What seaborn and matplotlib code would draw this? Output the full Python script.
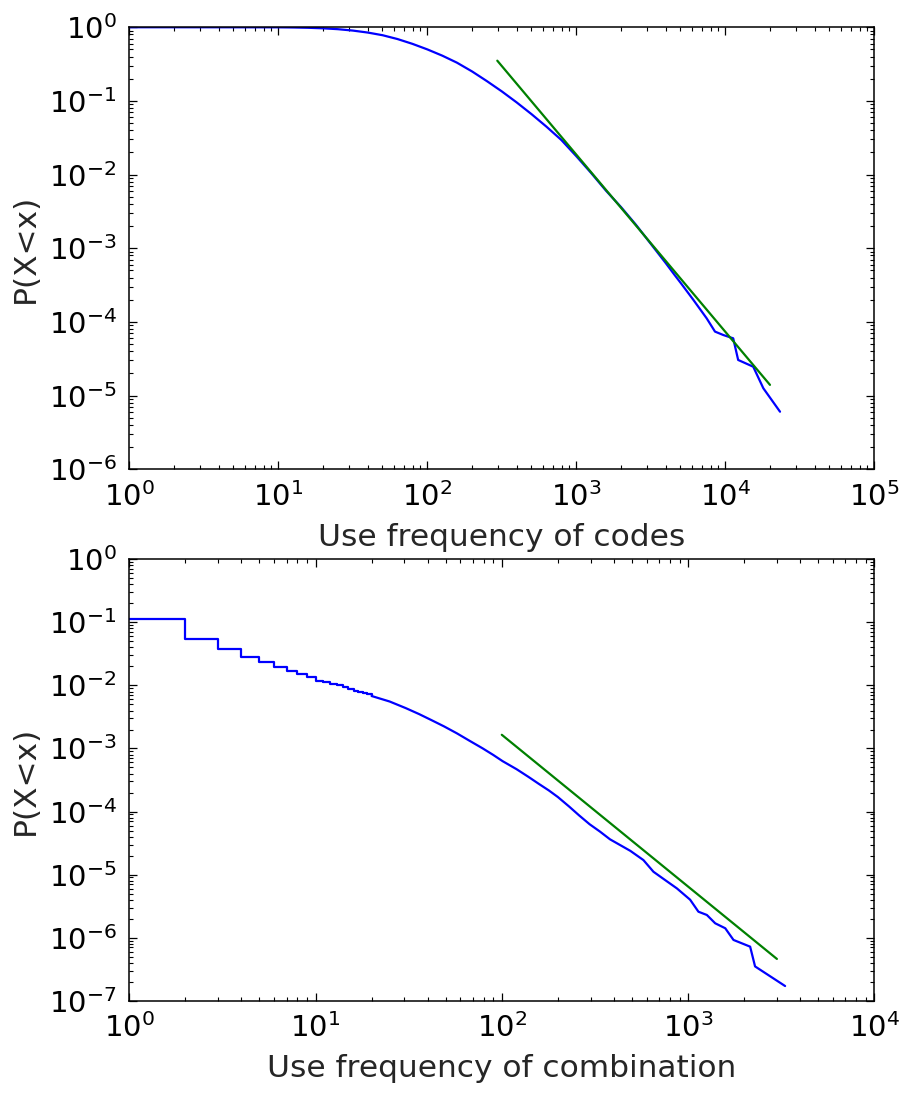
import numpy as np
import pandas as pd
import matplotlib
matplotlib.use("Agg")
import matplotlib.pyplot as plt
import matplotlib.ticker as mticker
import seaborn as sns

# ---------------- data ----------------
# Top panel: use frequency of codes (CCDF)
codes_x = [1, 2, 5, 10, 12.6, 15.8, 20.0, 25.1, 31.6, 39.8, 50.1, 63.1, 79.4,
           100, 126, 158, 200, 251, 316, 398, 501, 631, 794, 1000, 1259, 1585,
           1995, 2512, 3162, 3981, 4510, 5070, 6100, 6590, 7500, 8530, 9700,
           11300, 12200, 15400, 18000, 23300]
codes_y = [1.0, 1.0, 0.999, 0.998, 0.993, 0.984, 0.968, 0.942, 0.902, 0.848,
           0.78, 0.692, 0.596, 0.501, 0.412, 0.331, 0.251, 0.186, 0.135,
           0.0955, 0.0661, 0.0447, 0.0295, 0.0178, 0.0105, 0.00603, 0.00363,
           0.00209, 0.00115, 6.31e-4, 4.5e-4, 3.3e-4, 2.0e-4, 1.61e-4,
           1.12e-4, 7.4e-5, 6.65e-5, 6.0e-5, 3.05e-5, 2.47e-5, 1.26e-5, 6.05e-6]
codes_fit_x = [295, 19950]
codes_fit_y = [0.352, 1.4e-5]

# Bottom panel: use frequency of combination (CCDF)
comb_step_x = list(range(1, 21))
comb_step_y = [0.112, 0.0545, 0.0374, 0.0286, 0.0238, 0.0198, 0.0171, 0.0152,
               0.0134, 0.0119, 0.0115, 0.0107, 0.0100, 0.0093, 0.0089, 0.0083,
               0.0079, 0.0076, 0.0072, 0.0068]
comb_x = [20, 25, 30.5, 36, 41.9, 49, 57.4, 67, 78.7, 90, 101, 120, 139, 158,
          179, 200, 230, 260, 296, 337, 381, 490, 576, 652, 753, 871, 1026,
          1137, 1262, 1399, 1584, 1754, 2155, 2290, 3320]
comb_y = [0.0068, 0.00556, 0.00437, 0.00351, 0.00282, 0.00224, 0.00174,
          0.00133, 0.00101, 7.9e-4, 6.3e-4, 4.7e-4, 3.55e-4, 2.75e-4, 2.16e-4,
          1.70e-4, 1.20e-4, 8.7e-5, 6.3e-5, 4.8e-5, 3.63e-5, 2.38e-5, 1.7e-5,
          1.11e-5, 8.2e-6, 6.05e-6, 4.0e-6, 2.58e-6, 2.29e-6, 1.69e-6,
          1.41e-6, 9.2e-7, 7.2e-7, 3.5e-7, 1.71e-7]
comb_fit_x = [100, 3000]
comb_fit_y = [1.65e-3, 4.6e-7]

xlabels = ["Use frequency of codes", "Use frequency of combination"]
ylabel = "P(X<x)"

# ---------------- style ----------------
sns.set_style("white")
plt.rcParams.update({
    "font.family": ["DejaVu Sans"],
    "axes.unicode_minus": False,
    "axes.edgecolor": "black",
    "axes.linewidth": 1.1,
    "xtick.direction": "in",
    "ytick.direction": "in",
    "xtick.top": True,
    "ytick.right": True,
    "xtick.bottom": True,
    "ytick.left": True,
    "xtick.major.size": 6,
    "ytick.major.size": 6,
    "xtick.minor.size": 3,
    "ytick.minor.size": 3,
    "xtick.major.width": 0.9,
    "ytick.major.width": 0.9,
    "xtick.minor.width": 0.8,
    "ytick.minor.width": 0.8,
    "xtick.color": "black",
    "ytick.color": "black",
    "xtick.major.pad": 9,
    "ytick.major.pad": 9,
})

fig = plt.figure(figsize=(9.06, 10.95), dpi=100)
ax1 = fig.add_axes([0.1427, 0.5714, 0.8223, 0.4037])
ax2 = fig.add_axes([0.1427, 0.0861, 0.8223, 0.4031])

BLUE = "#0000ff"
GREEN = "#008000"
LW = 1.6

df_codes = pd.DataFrame({"x": codes_x, "y": codes_y})
df_codes_fit = pd.DataFrame({"x": codes_fit_x, "y": codes_fit_y})
df_step = pd.DataFrame({"x": comb_step_x, "y": comb_step_y})
df_comb = pd.DataFrame({"x": comb_x, "y": comb_y})
df_comb_fit = pd.DataFrame({"x": comb_fit_x, "y": comb_fit_y})

for ax in (ax1, ax2):
    ax.set_xscale("log")
    ax.set_yscale("log")

sns.lineplot(data=df_codes, x="x", y="y", ax=ax1, color=BLUE, lw=LW,
             sort=False, estimator=None)
sns.lineplot(data=df_codes_fit, x="x", y="y", ax=ax1, color=GREEN, lw=LW,
             sort=False, estimator=None)

sns.lineplot(data=df_step, x="x", y="y", ax=ax2, color=BLUE, lw=LW,
             sort=False, estimator=None, drawstyle="steps-post")
sns.lineplot(data=df_comb, x="x", y="y", ax=ax2, color=BLUE, lw=LW,
             sort=False, estimator=None)
sns.lineplot(data=df_comb_fit, x="x", y="y", ax=ax2, color=GREEN, lw=LW,
             sort=False, estimator=None)

ax1.set_xlim(1, 1e5)
ax1.set_ylim(1e-6, 1)
ax2.set_xlim(1, 1e4)
ax2.set_ylim(1e-7, 1)

for ax, xl in zip((ax1, ax2), xlabels):
    for axis in (ax.xaxis, ax.yaxis):
        axis.set_major_locator(mticker.LogLocator(base=10, numticks=20))
        axis.set_minor_locator(mticker.LogLocator(base=10, subs=np.arange(2, 10), numticks=20))
        axis.set_major_formatter(mticker.LogFormatterSciNotation())
        axis.set_minor_formatter(mticker.NullFormatter())
    ax.tick_params(which="both", labelsize=21)
    ax.set_xlabel(xl, fontsize=22.5, labelpad=8)
    ax.set_ylabel(ylabel, fontsize=22.5, labelpad=6)
    for s in ax.spines.values():
        s.set_visible(True)
        s.set_color("black")

fig.savefig("out.png", dpi=100, facecolor="white")
